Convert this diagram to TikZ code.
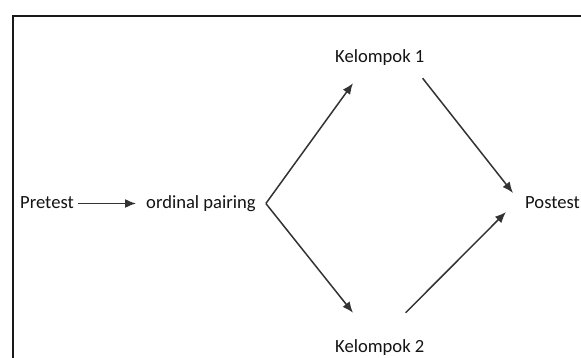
\documentclass[tikz,border=0pt]{standalone}
\usepackage{fontspec}
\setmainfont{Carlito}
\usetikzlibrary{arrows.meta,calc}
\begin{document}
\begin{tikzpicture}[x=1pt,y=-1pt,
  lbl/.style={font=\fontsize{18.6}{22}\selectfont, text=black!92, inner ysep=0pt, inner xsep=0pt,
              text height=13pt, text depth=2pt, anchor=base west},
  arr/.style={draw=black!80, line width=1.5pt, -{Latex[length=11pt,width=9pt]}}]
\clip (0,0) rectangle (581,358);
\fill[white] (0,0) rectangle (581,358);
\draw[line width=2.4pt, black!90] (13,16) rectangle (620,400);
\node[lbl, inner xsep=4pt] (pre) at (16,209) {Pretest};
\node[lbl, inner xsep=10pt] (op) at (136,209) {ordinal pairing};
\node[lbl] (k1) at (335,63) {Kelompok 1};
\node[lbl] (k2) at (335,352) {Kelompok 2};
\node[lbl] (post) at (525,209) {Postest};
\draw[arr] (pre) -- (op);
\draw[arr] (op.east) -- ($(k1.south west)+(18,18)$);
\draw[arr] (op.east) -- ($(k2.north west)+(18,-26)$);
\draw[arr] ($(k1.south east)+(-2,13)$) -- ($(post.west)+(-12,-10.5)$);
\draw[arr] ($(k2.north east)+(-19,-26)$) -- ($(post.west)+(-19,8.5)$);
\end{tikzpicture}
\end{document}
